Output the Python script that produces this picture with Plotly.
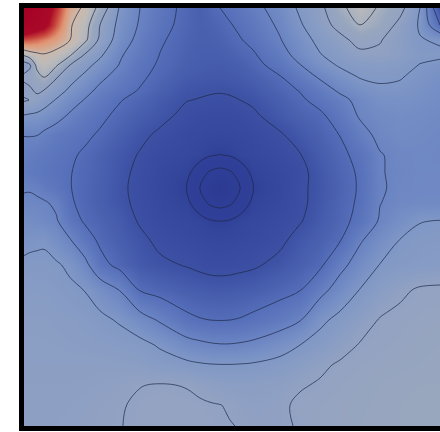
import plotly.graph_objects as go

x_nodes = [24,30,37,44,56,70,85,100,120,140,160,187,200,210,220,230,240,253,280,300,320,340,360,380,400,420,440]
y_nodes = [8,25,40,55,65,77,90,100,115,135,155,173,188,203,221,240,265,290,320,345,365,385,405,426]

r008 = [14,13.4,12.7,12,10.5,8.5,7.8,6.7,4.9,4,3.4,2.75,2.5,2.75,3.0,3.2,3.4,3.7,4.4,5.15,5.75,6.8,7.4,6.9,6.3,5,2]
r025 = [13,12.4,11.9,11.5,9.8,8.1,7.4,6.0,4.7,3.9,3.3,2.7,2.55,2.62,2.75,2.95,3.15,3.45,4.15,4.9,5.6,6.3,7.0,6.6,5.75,4.9,3.0]
r040 = [9.8,9.7,9.5,9.2,8.7,8,7.2,5.8,4.5,3.7,3.1,2.65,2.5,2.53,2.6,2.75,2.95,3.2,3.95,4.6,5.25,5.75,6.3,6.05,5.6,5.05,4.9]
r055 = [7.1,7.5,7.75,7.9,7.6,7.1,5.9,5.15,4.1,3.5,2.98,2.55,2.45,2.45,2.45,2.55,2.7,2.9,3.6,4.35,4.95,5.4,5.8,5.85,5.6,5.2,5.15]
r065 = [5.5,5.9,7.3,7.5,7.15,6.0,5.3,4.7,3.95,3.3,2.9,2.5,2.4,2.37,2.35,2.4,2.5,2.72,3.35,3.97,4.65,5.1,5.35,5.45,5.3,4.97,4.8]
r077 = [6.2,6.25,6.6,7.02,6.1,5.35,4.8,4.2,3.65,3.15,2.75,2.35,2.3,2.27,2.25,2.3,2.35,2.5,2.95,3.55,4.1,4.65,5.05,5.15,5.05,4.8,4.6]
r090 = [5.7,5.9,6.15,6.0,5.45,4.85,4.3,3.8,3.35,2.95,2.55,2.15,2.1,2.07,2.05,2.08,2.15,2.28,2.7,3.05,3.6,4.15,4.6,4.85,4.85,4.7,4.45]
r100 = [6.1,5.98,5.75,5.4,4.95,4.4,3.95,3.5,3.05,2.7,2.35,2.02,1.97,1.92,1.9,1.93,2.0,2.1,2.5,2.85,3.3,3.75,4.25,4.6,4.65,4.55,4.4]
r115 = [5.0,4.92,4.85,4.7,4.35,3.9,3.5,3.2,2.8,2.45,2.2,1.82,1.72,1.68,1.66,1.68,1.72,1.9,2.3,2.6,2.85,3.45,4.1,4.35,4.45,4.4,4.3]
r135 = [4.02,4.03,4.02,3.8,3.55,3.35,3.15,2.9,2.5,2.15,1.88,1.6,1.55,1.5,1.48,1.5,1.55,1.6,1.93,2.25,2.6,3.02,3.7,4.2,4.35,4.3,4.25]
r155 = [3.75,3.68,3.55,3.45,3.3,3.12,2.88,2.6,2.25,1.95,1.65,1.5,1.35,1.08,0.98,1.08,1.35,1.5,1.7,1.97,2.4,2.8,3.25,3.95,4.2,4.25,4.2]
r173 = [3.65,3.55,3.45,3.35,3.2,3.03,2.8,2.55,2.18,1.83,1.55,1.22,0.38,-0.15,-0.38,-0.15,0.38,1.22,1.55,1.82,2.25,2.7,3.1,3.95,4.15,4.25,4.25]
r188 = [3.9,3.92,3.82,3.6,3.35,3.03,2.75,2.5,2.13,1.8,1.5,0.99,-0.01,-0.75,-1.5,-0.75,-0.01,0.99,1.5,1.87,2.2,2.65,3.08,3.9,4.2,4.25,4.25]
r203 = [4.2,4.2,4.15,4.1,3.85,3.1,2.78,2.5,2.17,1.83,1.55,1.22,0.38,-0.15,-0.38,-0.15,0.38,1.22,1.55,1.85,2.25,2.7,3.12,3.98,4.25,4.3,4.3]
r221 = [4.5,4.45,4.4,4.3,4.1,3.4,2.9,2.65,2.35,1.93,1.65,1.5,1.35,1.08,0.99,1.08,1.35,1.5,1.7,1.95,2.35,2.75,3.25,4.1,4.55,4.97,5.03]
r240 = [4.75,4.8,4.85,4.88,4.55,4.05,3.4,2.85,2.45,2.15,1.85,1.62,1.55,1.5,1.48,1.5,1.55,1.62,1.85,2.25,2.55,2.95,3.9,4.5,5.02,5.2,5.25]
r265 = [5.15,5.2,5.2,5.2,5.1,4.85,4.25,3.3,2.75,2.3,2.12,1.96,1.85,1.78,1.75,1.78,1.83,1.9,2.2,2.5,2.85,3.75,4.4,5.03,5.25,5.35,5.4]
r290 = [5.35,5.4,5.4,5.4,5.3,5.15,4.98,4.55,3.97,2.95,2.7,2.45,2.38,2.33,2.32,2.33,2.38,2.45,2.72,2.97,3.7,4.4,5.03,5.5,5.85,6.1,6.15]
r320 = [5.55,5.55,5.55,5.55,5.5,5.45,5.35,5.2,4.9,4.4,3.9,3.2,3.05,3.0,2.98,3.0,3.05,3.2,3.55,3.95,4.8,5.25,5.65,6.05,6.2,6.3,6.35]
r345 = [5.6,5.6,5.6,5.6,5.58,5.55,5.5,5.45,5.4,5.25,4.9,4.35,4.2,4.1,4.05,4.05,4.1,4.2,4.6,5.0,5.35,5.7,6.05,6.2,6.3,6.4,6.45]
r365 = [5.65,5.65,5.65,5.65,5.65,5.65,5.65,5.65,5.62,5.55,5.4,5.2,5.1,5.05,5.03,5.03,5.05,5.1,5.3,5.55,5.85,6.1,6.25,6.35,6.4,6.45,6.5]
r385 = [5.7,5.7,5.7,5.7,5.7,5.7,5.72,5.75,5.85,5.98,6.04,5.97,5.85,5.75,5.65,5.6,5.58,5.6,5.72,5.92,6.08,6.25,6.35,6.45,6.5,6.55,6.55]
r405 = [5.72,5.72,5.72,5.72,5.72,5.75,5.8,5.85,5.95,6.1,6.15,6.12,6.08,6.04,6.01,5.95,5.85,5.75,5.85,6.15,6.25,6.35,6.42,6.5,6.55,6.6,6.6]
r426 = [5.75,5.75,5.75,5.75,5.75,5.78,5.82,5.9,5.98,6.12,6.2,6.2,6.15,6.1,6.05,6.02,5.98,5.85,5.85,6.08,6.25,6.35,6.45,6.5,6.55,6.6,6.6]

field = [r008,r025,r040,r055,r065,r077,r090,r100,r115,r135,r155,r173,r188,r203,r221,r240,r265,r290,r320,r345,r365,r385,r405,r426]

z_lo, z_hi = -1.5, 14
stops = [(-1.5,(44,58,146)),(1,(48,64,152)),(2,(60,80,164)),(3,(85,110,185)),(4,(106,132,195)),(5,(128,152,198)),
         (6,(146,162,194)),(6.6,(152,166,190)),(7,(170,178,190)),(7.5,(188,186,186)),(8,(205,185,170)),(9,(225,150,115)),
         (10,(200,70,60)),(11,(170,10,40)),(14,(165,0,38))]
colorscale = [[(v-z_lo)/(z_hi-z_lo), f"rgb{c}"] for v,c in stops]

fig = go.Figure(go.Contour(
    x=x_nodes, y=y_nodes, z=field, zmin=z_lo, zmax=z_hi, zauto=False, colorscale=colorscale,
    showscale=False, hoverinfo="skip",
    contours=dict(coloring="heatmap", start=0, end=8, size=1, showlabels=False),
    line=dict(color="rgba(30,40,70,0.7)", width=1, smoothing=1.0),
))
fig.update_xaxes(range=[24,440], visible=True, showticklabels=False, ticks="", showgrid=False, zeroline=False,
                 showline=True, linecolor="black", linewidth=5, mirror=True)
fig.update_yaxes(range=[426,8], visible=True, showticklabels=False, ticks="", showgrid=False, zeroline=False,
                 showline=True, linecolor="black", linewidth=5, mirror=True)
fig.update_layout(width=440, height=432, margin=dict(l=24,r=0,t=8,b=6,autoexpand=False),
                  paper_bgcolor="white", plot_bgcolor="white", showlegend=False)
fig.write_html("out.html", config=dict(displayModeBar=False),
               post_script="document.body.style.margin='0';document.body.style.overflow='hidden';")
